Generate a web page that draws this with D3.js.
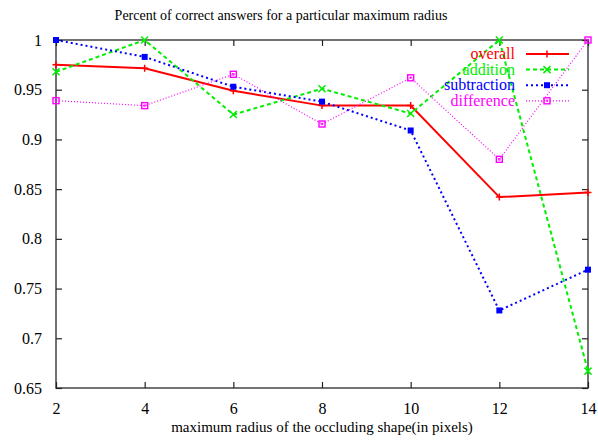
<!DOCTYPE html>
<html>
<head>
<meta charset="utf-8">
<script src="https://cdn.jsdelivr.net/npm/d3@7"></script>
<style>
  body { margin: 0; background: #fff; }
  svg text { font-family: "Liberation Serif", "Times New Roman", "DejaVu Serif", serif !important; }
</style>
</head>
<body>
<div id="chart"></div>
<script>
// data
const radii = [2, 4, 6, 8, 10, 12, 14];
const overall = [0.975, 0.9715, 0.949, 0.934, 0.934, 0.842, 0.8465];
const addition = [0.968, 1.0, 0.925, 0.951, 0.926, 1.0, 0.667];
const subtraction = [1.0, 0.983, 0.953, 0.938, 0.909, 0.728, 0.769];
const difference = [0.939, 0.934, 0.9655, 0.9155, 0.962, 0.880, 1.0];
const yTicks = [0.65, 0.7, 0.75, 0.8, 0.85, 0.9, 0.95, 1];
const xTicks = [2, 4, 6, 8, 10, 12, 14];

const series = [
  { name: "overall", values: overall, color: "#ff0000", dash: null, width: 2, mark: "plus" },
  { name: "addition", values: addition, color: "#00ee00", dash: "4,3", width: 2, mark: "cross" },
  { name: "subtraction", values: subtraction, color: "#0000ff", dash: "2,3", width: 2, mark: "star" },
  { name: "difference", values: difference, color: "#ff00ff", dash: "1,2", width: 1.2, mark: "box" }
];

const fontFamily = "'Liberation Serif', 'Times New Roman', serif";
const svgWidth = 598, svgHeight = 440;
const margin = { top: 40, right: 10, bottom: 52, left: 56 };
const width = svgWidth - margin.left - margin.right;
const height = svgHeight - margin.top - margin.bottom;

const svg = d3.select("#chart").append("svg")
  .attr("width", svgWidth)
  .attr("height", svgHeight)
  .attr("font-family", fontFamily);

const g = svg.append("g")
  .attr("transform", `translate(${margin.left}, ${margin.top})`);

const x = d3.scaleLinear().domain([2, 14]).range([0, width]);
const y = d3.scaleLinear().domain([0.65, 1]).range([height, 0]);

// frame
g.append("rect")
  .attr("width", width).attr("height", height)
  .attr("fill", "none").attr("stroke", "#444").attr("stroke-width", 1.5);

// ticks, gnuplot style: inside on all four sides
const tickLen = 6;
g.append("g").attr("transform", `translate(0, ${height})`)
  .call(d3.axisBottom(x).tickValues(xTicks).tickSizeInner(-tickLen).tickSizeOuter(0).tickPadding(tickLen + 9))
  .call(a => a.select(".domain").remove());
g.append("g")
  .call(d3.axisTop(x).tickValues(xTicks).tickSizeInner(-tickLen).tickSizeOuter(0).tickFormat(""))
  .call(a => a.select(".domain").remove());
g.append("g")
  .call(d3.axisLeft(y).tickValues(yTicks).tickSizeInner(-tickLen).tickSizeOuter(0).tickPadding(tickLen + 8)
    .tickFormat(d => d === 1 ? "1" : d3.format("")(d)))
  .call(a => a.select(".domain").remove());
g.append("g").attr("transform", `translate(${width}, 0)`)
  .call(d3.axisRight(y).tickValues(yTicks).tickSizeInner(-tickLen).tickSizeOuter(0).tickFormat(""))
  .call(a => a.select(".domain").remove());

g.selectAll("g").attr("font-family", fontFamily).attr("font-size", 16);
g.selectAll(".tick line").attr("stroke", "#222").attr("stroke-width", 1.2);
g.selectAll(".tick text").attr("fill", "#000");

// title and axis label
svg.append("text")
  .attr("x", 281).attr("y", 20)
  .attr("text-anchor", "middle")
  .attr("font-size", 14)
  .text("Percent of correct answers for a particular maximum radius");

svg.append("text")
  .attr("x", margin.left + width / 2).attr("y", 432)
  .attr("text-anchor", "middle")
  .attr("font-size", 15)
  .text("maximum radius of the occluding shape(in pixels)");

// point markers
function drawMark(sel, type, color) {
  const s = 3.5;
  if (type === "plus") {
    sel.append("path").attr("d", `M${-s},0H${s}M0,${-s}V${s}`)
      .attr("stroke", color).attr("stroke-width", 1.5).attr("fill", "none");
  } else if (type === "cross") {
    sel.append("path").attr("d", `M${-s},${-s}L${s},${s}M${-s},${s}L${s},${-s}`)
      .attr("stroke", color).attr("stroke-width", 1.5).attr("fill", "none");
  } else if (type === "star") {
    sel.append("rect").attr("x", -3).attr("y", -3).attr("width", 6).attr("height", 6)
      .attr("fill", color);
  } else if (type === "box") {
    sel.append("rect").attr("x", -3).attr("y", -3).attr("width", 6).attr("height", 6)
      .attr("fill", "none").attr("stroke", color).attr("stroke-width", 1.4);
    sel.append("rect").attr("x", -0.8).attr("y", -0.8).attr("width", 1.6).attr("height", 1.6)
      .attr("fill", "none").attr("stroke", color).attr("stroke-width", 0.7);
  }
}

const line = d3.line()
  .x((d, i) => x(radii[i]))
  .y(d => y(d));

series.forEach(s => {
  g.append("path")
    .datum(s.values)
    .attr("fill", "none")
    .attr("stroke", s.color)
    .attr("stroke-width", s.width)
    .attr("stroke-dasharray", s.dash)
    .attr("d", line);

  g.selectAll(null)
    .data(s.values)
    .enter()
    .append("g")
    .attr("transform", (d, i) => `translate(${x(radii[i])}, ${y(d)})`)
    .each(function() { drawMark(d3.select(this), s.mark, s.color); });
});

// legend, top right
const legend = svg.append("g");
series.forEach((s, i) => {
  const ly = 54 + i * 15.6;
  legend.append("text")
    .attr("x", 515).attr("y", ly + 5)
    .attr("text-anchor", "end")
    .attr("font-size", 16)
    .attr("fill", s.color)
    .text(s.name);
  legend.append("line")
    .attr("x1", 526).attr("x2", 569)
    .attr("y1", ly).attr("y2", ly)
    .attr("stroke", s.color)
    .attr("stroke-width", s.width)
    .attr("stroke-dasharray", s.dash);
  const m = legend.append("g").attr("transform", `translate(547, ${ly})`);
  drawMark(m, s.mark, s.color);
});
</script>
</body>
</html>
